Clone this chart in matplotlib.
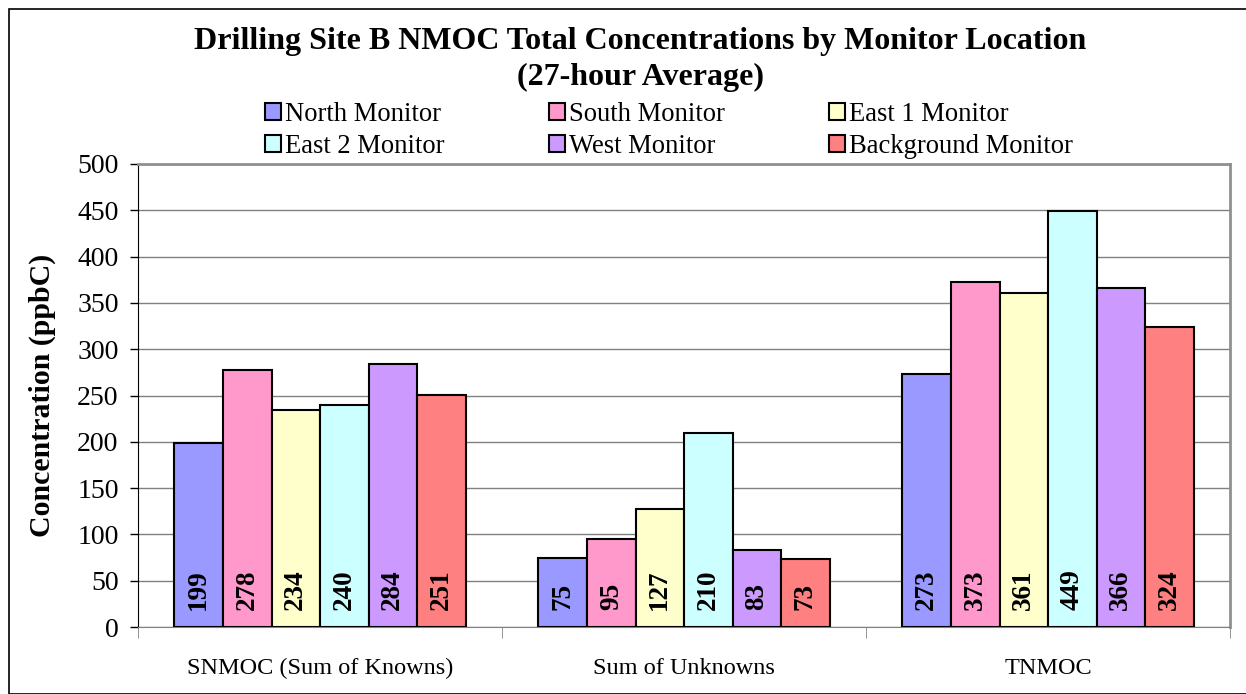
import numpy as np
import matplotlib.pyplot as plt
from matplotlib.patches import Rectangle

plt.rcParams['font.family'] = ['Liberation Serif', 'DejaVu Serif']

categories = ["SNMOC (Sum of Knowns)", "Sum of Unknowns", "TNMOC"]
monitors = ["North Monitor", "South Monitor", "East 1 Monitor",
            "East 2 Monitor", "West Monitor", "Background Monitor"]
north = [199, 75, 273]
south = [278, 95, 373]
east1 = [234, 127, 361]
east2 = [240, 210, 449]
west = [284, 83, 366]
background = [251, 73, 324]
colors = ["#9999FF", "#FF99CC", "#FFFFCC", "#CCFFFF", "#CC99FF", "#FF8080"]

series = [north, south, east1, east2, west, background]

fig = plt.figure(figsize=(12.46, 6.94), dpi=100)
ax = fig.add_axes([0.1108, 0.0965, 0.8764, 0.6672])

# figure frame
fig.patches.append(Rectangle((9 / 1246, 0), 1.2, (694 - 9) / 694, transform=fig.transFigure,
                             fill=False, edgecolor="black", linewidth=1.2))

x = np.arange(len(categories))
w = 0.8 / len(series)
bars = []
for i, (vals, col, lab) in enumerate(zip(series, colors, monitors)):
    pos = x - 0.4 + w * (i + 0.5)
    b = ax.bar(pos, vals, width=w, color=col, edgecolor="black", linewidth=1.5,
               label=lab, zorder=3)
    bars.append(b)
    for p, v in zip(pos, vals):
        ax.annotate(str(v), xy=(p, 0), xytext=(0, 12), textcoords="offset points",
                    rotation=90, ha="center", va="bottom", fontsize=19.5,
                    fontweight="bold", zorder=4)

ax.set_xlim(-0.5, len(categories) - 0.5)
ax.set_ylim(0, 500)
ax.set_yticks(np.arange(0, 501, 50))
ax.tick_params(axis="y", labelsize=20, direction="out", length=6, width=1, pad=8)
ax.set_xticks(x)
ax.set_xticklabels(categories, fontsize=17.5)
ax.tick_params(axis="x", length=0, pad=22)
ax.set_xticks(np.arange(-0.5, len(categories), 1), minor=True)
ax.tick_params(axis="x", which="minor", length=8, direction="out", color="gray")
ax.yaxis.grid(True, color="#808080", linewidth=1, zorder=0)
ax.set_axisbelow(True)
for s in ["top", "right"]:
    ax.spines[s].set_color("#909090")
    ax.spines[s].set_linewidth(2)
ax.spines["left"].set_color("black")
ax.spines["bottom"].set_color("#808080")
ax.set_ylabel("Concentration (ppbC)", fontsize=21.5, fontweight="bold", labelpad=15)

fig.text(0.514, 0.94, "Drilling Site B NMOC Total Concentrations by Monitor Location",
         ha="center", va="center", fontsize=23, fontweight="bold")
fig.text(0.514, 0.888, "(27-hour Average)", ha="center", va="center",
         fontsize=23, fontweight="bold")

order = [0, 3, 1, 4, 2, 5]
handles = [bars[i] for i in order]
labels = [monitors[i] for i in order]
fig.legend(handles, labels, ncol=3, loc="center", bbox_to_anchor=(0.537, 0.812),
           frameon=False, fontsize=19.2, handlelength=0.6, handleheight=0.6,
           handletextpad=0.15, columnspacing=3.9, labelspacing=0.25)

fig.savefig("out.png", dpi=100)
